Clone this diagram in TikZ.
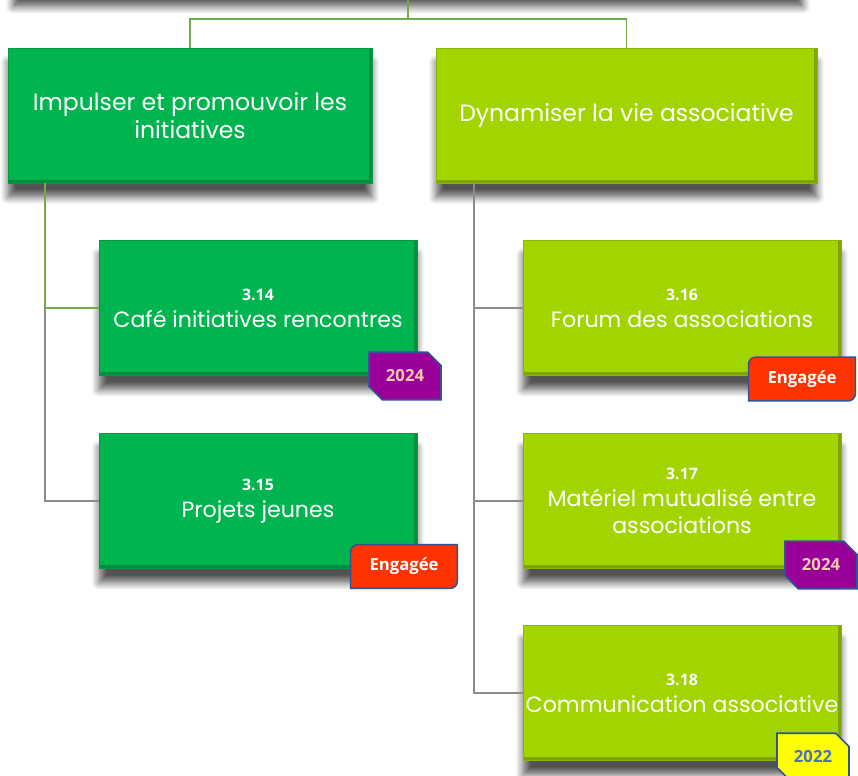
\documentclass[tikz,border=0pt]{standalone}
\usepackage{fontspec}
\setmainfont{Poppins}
\newfontfamily\boldsans{Open Sans}
\usetikzlibrary{shapes.misc,shadows.blur}

\definecolor{boxgreen}{HTML}{00B550}
\definecolor{boxlime}{HTML}{A2D500}
\definecolor{linkgreen}{HTML}{70AD47}
\definecolor{linkgray}{HTML}{8C8C8C}
\definecolor{badgeblue}{HTML}{2F5597}
\definecolor{badgepurple}{HTML}{990099}
\definecolor{badgepeach}{HTML}{F8CBAD}
\definecolor{badgered}{HTML}{FF3300}
\definecolor{badgeyellow}{HTML}{FFFF00}
\definecolor{badgetextblue}{HTML}{4472C4}

\newcommand\numtxt[1]{{\boldsans\bfseries\fontsize{9}{11}\selectfont #1}}
\newcommand\badgefont{\boldsans\bfseries\fontsize{9.5}{11}\selectfont}

\tikzset{
  box/.style={rectangle, fill=#1, draw=#1!85!black, line width=0.4pt,
    text=white, align=center, inner sep=0pt,
    font=\fontsize{12.6}{15.5}\selectfont,
    path picture={
      \fill[#1!78!black] (path picture bounding box.south west) rectangle ([yshift=0.06cm]path picture bounding box.south east);
      \fill[#1!78!black] (path picture bounding box.north east) rectangle ([xshift=-0.05cm]path picture bounding box.south east);},
    blur shadow={shadow xshift=0pt, shadow yshift=-0.28cm, shadow blur radius=0.15cm,
      shadow blur steps=8, shadow opacity=68}},
  topbox/.style={box=#1, minimum height=2.7cm, font=\fontsize{13.4}{16}\selectfont},
  action/.style={box=#1, minimum width=6.36cm, minimum height=2.7cm},
  greenlink/.style={draw=linkgreen, line width=0.6pt},
  graylink/.style={draw=linkgray, line width=0.6pt},
  yearbadge/.style={chamfered rectangle, chamfered rectangle corners={north east,south west},
    chamfered rectangle xsep=0.14cm, chamfered rectangle ysep=0.14cm,
    fill=#1, draw=badgeblue, line width=0.9pt, inner sep=0pt,
    minimum width=1.44cm, minimum height=0.95cm, font=\badgefont},
  engshape/.style={fill=badgered, draw=badgeblue, line width=0.9pt}
}

% badge with two rounded corners: name, centre
\newcommand\engbadge[2]{%
  \node[minimum width=2.12cm, minimum height=0.86cm, inner sep=0pt] (#1) at (#2) {};
  \path[engshape] (#1.south west) -- ([yshift=-0.14cm]#1.north west)
    arc[start angle=180, end angle=90, radius=0.14cm] -- (#1.north east)
    -- ([yshift=0.14cm]#1.south east)
    arc[start angle=0, end angle=-90, radius=0.14cm] -- cycle;
  \node[font=\badgefont, text=white] (#1-txt) at (#1) {Engagée};
}

\begin{document}
\begin{tikzpicture}[x=0.02cm, y=-0.02cm]
  \useasboundingbox (0,0) rectangle (858,776);
  \clip (0,0) rectangle (858,776);
  % level 0 (cut by the frame)
  \node[box=boxgreen, minimum width=15.8cm, minimum height=2.5cm] (root) at (408,-70) {};
  % level 1
  \node[topbox=boxgreen, minimum width=7.28cm] (impulser) at (190,115.5)
    {Impulser et promouvoir les\\initiatives};
  \node[topbox=boxlime, minimum width=7.62cm] (dynamiser) at (626.5,115.5)
    {Dynamiser la vie associative};
  % actions
  \node[action=boxgreen] (a314) at (258,308) {\numtxt{3.14}\\Café initiatives rencontres};
  \node[action=boxgreen] (a315) at (258,501) {\numtxt{3.15}\\Projets jeunes};
  \node[action=boxlime] (a316) at (682,308) {\numtxt{3.16}\\Forum des associations};
  \node[action=boxlime] (a317) at (682,501) {\numtxt{3.17}\\Matériel mutualisé entre\\associations};
  \node[action=boxlime] (a318) at (682,693) {\numtxt{3.18}\\Communication associative};
  % connectors
  \coordinate (fork) at (408,19);
  \coordinate (lstem) at (45,183);
  \coordinate (rstem) at (474,183);
  \draw[greenlink] (root.south) -- (fork) -| (impulser.north);
  \draw[greenlink] (fork) -| (dynamiser.north);
  \draw[graylink] (lstem) |- (a315.west);
  \draw[greenlink] (lstem) |- (a314.west);
  \foreach \n in {a316,a317,a318}
    \draw[graylink] (rstem) |- (\n.west);
  % badges
  \node[yearbadge=badgepurple, text=badgepeach] (y314) at (405,376) {2024};
  \engbadge{e315}{404,566.5}
  \engbadge{e316}{802,379}
  \node[yearbadge=badgepurple, text=badgepeach] (y317) at (821,565) {2024};
  \node[yearbadge=badgeyellow, text=badgetextblue] (y318) at (813,757) {2022};
\end{tikzpicture}
\end{document}
